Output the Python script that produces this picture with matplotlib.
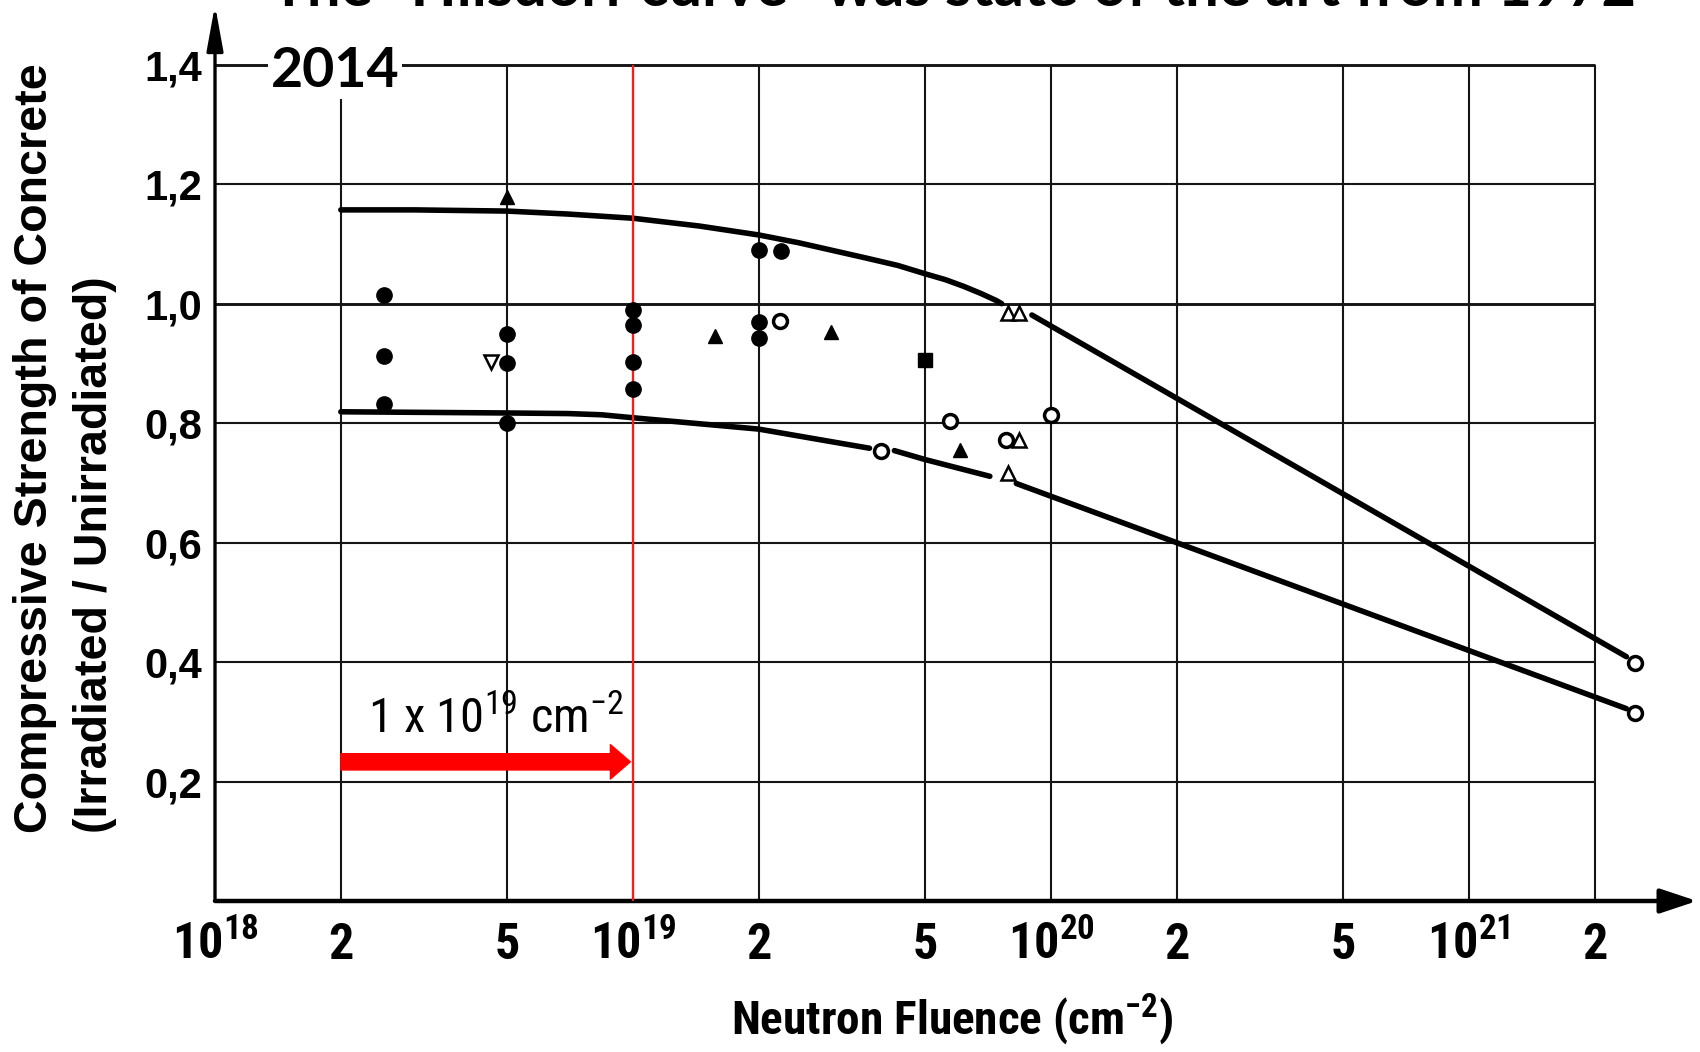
import matplotlib
matplotlib.use("Agg")
import matplotlib.pyplot as plt
from matplotlib import font_manager
from matplotlib.font_manager import FontProperties
from matplotlib.ticker import NullLocator

# --- data ---
upper_x1 = [2e18, 3e18, 5e18, 7e18, 1e19, 1.44e19, 2e19, 2.49e19, 3.58e19, 4.3e19, 5e19, 5.6e19, 6.18e19, 6.8e19, 7.41e19, 7.62e19]
upper_y1 = [1.157, 1.157, 1.155, 1.150, 1.143, 1.130, 1.115, 1.102, 1.077, 1.064, 1.050, 1.040, 1.029, 1.017, 1.005, 1.0]
upper_x2 = [9.0e19, 2.38e21]
upper_y2 = [0.981, 0.409]

lower_x1 = [2e18, 5e18, 7e18, 8.4e18, 1e19, 2e19, 2.98e19, 3.68e19]
lower_y1 = [0.819, 0.817, 0.816, 0.814, 0.809, 0.790, 0.769, 0.758]
lower_x2 = [4.22e19, 5e19, 7.14e19]
lower_y2 = [0.754, 0.739, 0.711]
lower_x3 = [8.26e19, 2.38e21]
lower_y3 = [0.699, 0.322]

filled_circle_x = [2.54e18, 2.54e18, 2.54e18, 5e18, 5e18, 5e18, 1e19, 1e19, 1e19, 1e19, 2e19, 2.26e19, 2e19, 2e19]
filled_circle_y = [1.014, 0.913, 0.832, 0.95, 0.90, 0.80, 0.99, 0.965, 0.903, 0.857, 1.09, 1.088, 0.97, 0.942]
filled_tri_x = [5e18, 1.57e19, 2.97e19, 6.07e19]
filled_tri_y = [1.178, 0.946, 0.952, 0.755]
open_tri_down_x = [4.57e18]
open_tri_down_y = [0.903]
square_x = [5e19]
square_y = [0.906]
open_circle_x = [2.25e19, 3.92e19, 5.74e19, 7.8e19, 1e20, 2.5e21, 2.5e21]
open_circle_y = [0.971, 0.754, 0.803, 0.772, 0.814, 0.399, 0.315]
open_tri_x = [7.87e19, 8.4e19, 8.4e19, 7.89e19]
open_tri_y = [0.984, 0.984, 0.771, 0.716]

grid_x = [2e18, 5e18, 1e19, 2e19, 5e19, 1e20, 2e20, 5e20, 1e21, 2e21]
grid_y = [0.2, 0.4, 0.6, 0.8, 1.0, 1.2, 1.4]
xtick_pos = [1e18, 2e18, 5e18, 1e19, 2e19, 5e19, 1e20, 2e20, 5e20, 1e21, 2e21]
xtick_lab = [r'$\mathregular{10^{18}}$', '2', '5', r'$\mathregular{10^{19}}$', '2', '5',
             r'$\mathregular{10^{20}}$', '2', '5', r'$\mathregular{10^{21}}$', '2']
ytick_lab = ['0,2', '0,4', '0,6', '0,8', '1,0', '1,2', '1,4']
threshold = 1e19


def is_weight(f, bold):
    w = f.weight
    if isinstance(w, str):
        w = 700 if w == 'bold' else 400
    return (w >= 600) if bold else (350 <= w < 500)


def pick_condensed(bold=False):
    fonts = font_manager.fontManager.ttflist
    for want in ['Liberation Sans Narrow', 'Roboto Condensed', 'Open Sans Condensed',
                 'Noto Sans Condensed', 'DejaVu Sans Condensed']:
        for f in fonts:
            if f.name == want and f.style == 'normal' and is_weight(f, bold):
                return f.fname, True
    for f in fonts:
        st = f.stretch
        if f.style == 'normal' and is_weight(f, bold) and (
                st in ('condensed', 'semi-condensed') or (isinstance(st, int) and st < 500)):
            return f.fname, True
    if bold:
        return pick_condensed(False)
    return font_manager.findfont('DejaVu Sans'), False


cond_reg, ok_reg = pick_condensed(False)
cond_bold, ok_bold = pick_condensed(True)


def narrow(size, bold=False):
    fname, ok = (cond_bold, ok_bold) if bold else (cond_reg, ok_reg)
    return FontProperties(fname=fname, size=size * (1.0 if ok else 0.8))


names = {f.name for f in font_manager.fontManager.ttflist}
wide = 'Liberation Sans' if 'Liberation Sans' in names else 'DejaVu Sans'
title_font = 'Lato' if 'Lato' in names else wide

W, H = 1700, 1052
fig = plt.figure(figsize=(W / 100, H / 100), dpi=100)
ax = fig.add_axes([215 / W, 151 / H, 1482 / W, 896 / H])
ax.set_xscale('log')
ax.set_xlim(1e18, 10 ** (18 + 1482 / 418))
ax.set_ylim(0, 1.5)
for s in ax.spines.values():
    s.set_visible(False)

# grid
ax.vlines(grid_x, 0, 1.4, color='#151515', lw=1.5, zorder=1)
ax.hlines(grid_y, 1e18, 2e21, color='#151515',
          lw=[2.1 if v in (1.0, 1.4) else 1.5 for v in grid_y], zorder=1)
ax.vlines(threshold, 0, 1.4, color='#ff1a1a', lw=1.6, zorder=4)

# axes with arrows
ax.annotate('', xy=(1, 0), xytext=(0, 0), xycoords='axes fraction',
            arrowprops=dict(arrowstyle='-|>,head_length=0.9,head_width=0.3', lw=3.2,
                            color='black', shrinkA=0, shrinkB=0, mutation_scale=25))
ax.annotate('', xy=(0, 1), xytext=(0, 0), xycoords='axes fraction',
            arrowprops=dict(arrowstyle='-|>,head_length=1.1,head_width=0.2', lw=2.4,
                            color='black', shrinkA=0, shrinkB=0, mutation_scale=25))

# curves
for xs, ys in [(upper_x1, upper_y1), (upper_x2, upper_y2),
               (lower_x1, lower_y1), (lower_x2, lower_y2), (lower_x3, lower_y3)]:
    ax.plot(xs, ys, color='black', lw=4.0, solid_capstyle='round',
            solid_joinstyle='round', zorder=3)

# data markers
ax.plot(filled_circle_x, filled_circle_y, 'o', ms=11, color='black', ls='none', zorder=5)
ax.plot(filled_tri_x, filled_tri_y, '^', ms=10, color='black', ls='none', zorder=5)
ax.plot(square_x, square_y, 's', ms=9.5, color='black', ls='none', zorder=5)
ax.plot(open_tri_down_x, open_tri_down_y, 'v', ms=9.5, mfc='white', mec='black', mew=1.8,
        ls='none', zorder=5)
ax.plot(open_circle_x, open_circle_y, 'o', ms=10, mfc='white', mec='black', mew=2.5,
        ls='none', zorder=5)
ax.plot(open_tri_x, open_tri_y, '^', ms=10, mfc='white', mec='black', mew=1.8,
        ls='none', zorder=5)

# red arrow and note
ax.annotate('', xy=(0.985e19, 0.233), xytext=(2e18, 0.233),
            arrowprops=dict(arrowstyle='simple,head_width=0.95,head_length=0.55,tail_width=0.45',
                            color='#ff0000', shrinkA=0, shrinkB=0, mutation_scale=26))
fig.text(496 / W, 1 - 733 / H, r'1 x 10$\mathregular{^{19}}$ cm$\mathregular{^{-2}}$',
         fontproperties=narrow(35), ha='center', va='baseline')

# ticks
ax.set_xticks(xtick_pos)
ax.set_xticklabels(xtick_lab)
ax.xaxis.set_minor_locator(NullLocator())
ax.tick_params(axis='x', length=0, pad=42)
for lab in ax.get_xticklabels():
    lab.set_fontproperties(narrow(36, bold=True))
    lab.set_va('baseline')
ax.set_yticks(grid_y)
ax.set_yticklabels(ytick_lab)
ax.tick_params(axis='y', length=0, pad=9, labelsize=30)
for lab in ax.get_yticklabels():
    lab.set_family(wide)
    lab.set_fontweight('bold')

# axis labels
fig.text(952 / W, 1 - 1035 / H, r'Neutron Fluence (cm$\mathregular{^{-2}}$)',
         fontproperties=narrow(34, bold=True), ha='center', va='baseline')
fig.text(35 / W, 1 - 833 / H, 'Compressive Strength of Concrete', family=wide,
         fontweight='bold', fontsize=33.6, rotation=90, ha='center', va='bottom')
fig.text(95 / W, 1 - 833 / H, '(Irradiated / Unirradiated)', family=wide,
         fontweight='bold', fontsize=33.6, rotation=90, ha='center', va='bottom')

# title (top line cut by the frame)
fig.text(271 / W, 1 - 6 / H, 'The "Hilsdorf curve" was state of the art from 1972',
         family=title_font, fontweight='bold', fontsize=43, ha='left', va='baseline')
fig.text(271 / W, 1 - 87 / H, '2014', family=title_font, fontweight='bold', fontsize=40,
         ha='left', va='baseline', zorder=10,
         bbox=dict(facecolor='white', edgecolor='none', pad=2))

fig.savefig('out.png', dpi=100)
